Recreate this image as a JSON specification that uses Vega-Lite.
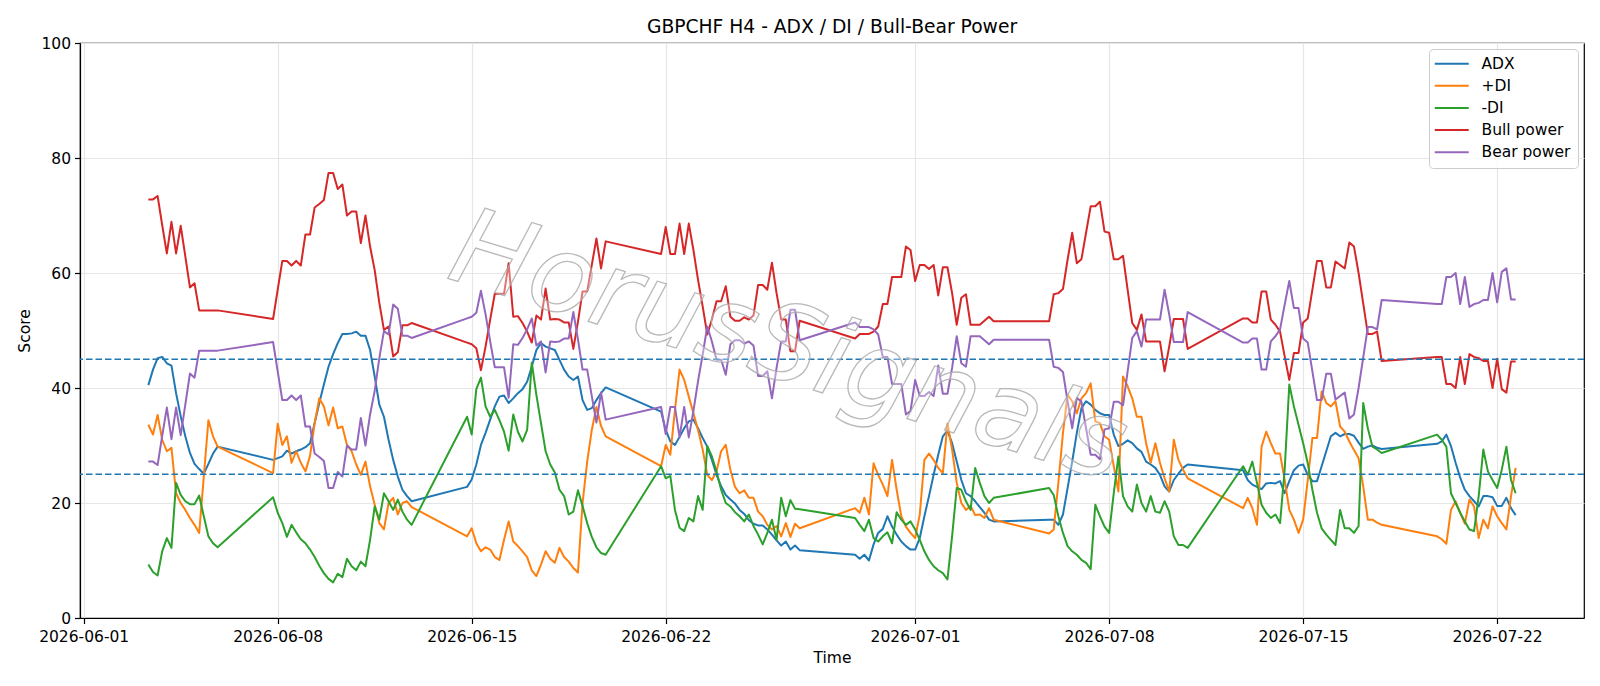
{
"$schema":"https://vega.github.io/schema/vega-lite/v6.json",
"width":1504,"height":575,
"autosize":{"type":"none"},
"padding":{"left":80,"top":43,"right":16,"bottom":68},
"background":"white",
"title":{"text":"GBPCHF H4 - ADX / DI / Bull-Bear Power","font":"DejaVu Sans","fontSize":18.7,"fontWeight":"normal","color":"black","offset":-1,"anchor":"middle"},
"config":{
"font":"DejaVu Sans",
"view":{"stroke":"black","strokeWidth":1.2},
"axis":{"labelFont":"DejaVu Sans","labelFontSize":15.5,"labelColor":"black","titleFont":"DejaVu Sans","titleFontSize":15.5,"titleFontWeight":"normal","titleColor":"black","tickColor":"black","tickSize":5.5,"tickWidth":1.2,"domainColor":"black","domainWidth":1.2,"gridColor":"#e6e6e6","gridWidth":1.2,"labelPadding":4},
"legend":{"labelFont":"DejaVu Sans","labelFontSize":15.5,"labelColor":"black"}
},
"layer":[
{"data":{"values":[
{"t":"2026-06-03T08:00Z","adx":40.5,"pdi":33.6,"mdi":9.3,"bull":72.8,"bear":27.2},
{"t":"2026-06-03T12:00Z","adx":43.2,"pdi":31.9,"mdi":8.0,"bull":72.8,"bear":27.2},
{"t":"2026-06-03T16:00Z","adx":45.2,"pdi":35.3,"mdi":7.4,"bull":73.4,"bear":26.6},
{"t":"2026-06-03T20:00Z","adx":45.4,"pdi":31.0,"mdi":11.6,"bull":68.3,"bear":31.7},
{"t":"2026-06-04T00:00Z","adx":44.3,"pdi":29.0,"mdi":13.9,"bull":63.4,"bear":36.6},
{"t":"2026-06-04T04:00Z","adx":43.9,"pdi":29.6,"mdi":12.2,"bull":68.9,"bear":31.1},
{"t":"2026-06-04T08:00Z","adx":39.1,"pdi":21.7,"mdi":23.5,"bull":63.4,"bear":36.6},
{"t":"2026-06-04T12:00Z","adx":35.1,"pdi":20.0,"mdi":21.4,"bull":68.2,"bear":31.8},
{"t":"2026-06-04T16:00Z","adx":31.6,"pdi":18.8,"mdi":20.3,"bull":62.9,"bear":37.1},
{"t":"2026-06-04T20:00Z","adx":28.7,"pdi":17.4,"mdi":19.8,"bull":57.5,"bear":42.5},
{"t":"2026-06-05T00:00Z","adx":26.8,"pdi":16.2,"mdi":19.8,"bull":58.2,"bear":41.8},
{"t":"2026-06-05T04:00Z","adx":25.9,"pdi":14.8,"mdi":21.3,"bull":53.5,"bear":46.5},
{"t":"2026-06-05T08:00Z","adx":25.1,"pdi":24.6,"mdi":17.7,"bull":53.5,"bear":46.5},
{"t":"2026-06-05T12:00Z","adx":26.8,"pdi":34.4,"mdi":14.2,"bull":53.5,"bear":46.5},
{"t":"2026-06-05T16:00Z","adx":28.6,"pdi":31.6,"mdi":13.0,"bull":53.5,"bear":46.5},
{"t":"2026-06-05T20:00Z","adx":29.8,"pdi":29.8,"mdi":12.3,"bull":53.5,"bear":46.5},
{"t":"2026-06-07T20:00Z","adx":27.5,"pdi":25.2,"mdi":21.0,"bull":52.0,"bear":48.0},
{"t":"2026-06-08T00:00Z","adx":27.8,"pdi":33.8,"mdi":18.3,"bull":57.1,"bear":42.9},
{"t":"2026-06-08T04:00Z","adx":28.1,"pdi":30.1,"mdi":16.5,"bull":62.1,"bear":37.9},
{"t":"2026-06-08T08:00Z","adx":29.1,"pdi":31.6,"mdi":14.1,"bull":62.1,"bear":37.9},
{"t":"2026-06-08T12:00Z","adx":28.6,"pdi":27.0,"mdi":16.2,"bull":61.3,"bear":38.7},
{"t":"2026-06-08T16:00Z","adx":29.0,"pdi":29.0,"mdi":14.9,"bull":62.1,"bear":37.9},
{"t":"2026-06-08T20:00Z","adx":29.3,"pdi":27.0,"mdi":13.7,"bull":61.3,"bear":38.7},
{"t":"2026-06-09T00:00Z","adx":29.7,"pdi":25.5,"mdi":13.0,"bull":66.7,"bear":33.3},
{"t":"2026-06-09T04:00Z","adx":30.4,"pdi":28.2,"mdi":11.9,"bull":66.7,"bear":33.3},
{"t":"2026-06-09T08:00Z","adx":33.9,"pdi":33.9,"mdi":10.6,"bull":71.4,"bear":28.6},
{"t":"2026-06-09T12:00Z","adx":37.4,"pdi":38.2,"mdi":9.1,"bull":72.0,"bear":28.0},
{"t":"2026-06-09T16:00Z","adx":40.6,"pdi":36.8,"mdi":7.8,"bull":72.7,"bear":27.3},
{"t":"2026-06-09T20:00Z","adx":43.7,"pdi":33.5,"mdi":6.8,"bull":77.4,"bear":22.6},
{"t":"2026-06-10T00:00Z","adx":45.9,"pdi":36.6,"mdi":6.2,"bull":77.4,"bear":22.6},
{"t":"2026-06-10T04:00Z","adx":47.8,"pdi":33.0,"mdi":7.7,"bull":74.6,"bear":25.4},
{"t":"2026-06-10T08:00Z","adx":49.4,"pdi":33.3,"mdi":7.1,"bull":75.4,"bear":24.6},
{"t":"2026-06-10T12:00Z","adx":49.4,"pdi":30.1,"mdi":10.3,"bull":70.0,"bear":30.0},
{"t":"2026-06-10T16:00Z","adx":49.5,"pdi":29.0,"mdi":9.0,"bull":70.7,"bear":29.3},
{"t":"2026-06-10T20:00Z","adx":49.8,"pdi":26.7,"mdi":8.3,"bull":70.7,"bear":29.3},
{"t":"2026-06-11T00:00Z","adx":49.1,"pdi":24.9,"mdi":9.8,"bull":65.2,"bear":34.8},
{"t":"2026-06-11T04:00Z","adx":49.1,"pdi":27.2,"mdi":9.0,"bull":70.0,"bear":30.0},
{"t":"2026-06-11T08:00Z","adx":46.6,"pdi":22.9,"mdi":13.6,"bull":64.6,"bear":35.4},
{"t":"2026-06-11T12:00Z","adx":42.0,"pdi":19.7,"mdi":19.4,"bull":60.5,"bear":39.5},
{"t":"2026-06-11T16:00Z","adx":37.1,"pdi":16.5,"mdi":17.1,"bull":54.8,"bear":45.2},
{"t":"2026-06-11T20:00Z","adx":35.0,"pdi":15.4,"mdi":21.7,"bull":50.1,"bear":49.9},
{"t":"2026-06-12T00:00Z","adx":31.0,"pdi":20.0,"mdi":20.3,"bull":50.7,"bear":49.3},
{"t":"2026-06-12T04:00Z","adx":27.5,"pdi":20.9,"mdi":18.8,"bull":45.5,"bear":54.5},
{"t":"2026-06-12T08:00Z","adx":24.6,"pdi":18.0,"mdi":20.6,"bull":46.2,"bear":53.8},
{"t":"2026-06-12T12:00Z","adx":22.3,"pdi":20.0,"mdi":18.5,"bull":50.9,"bear":49.1},
{"t":"2026-06-12T16:00Z","adx":21.2,"pdi":20.3,"mdi":17.1,"bull":50.9,"bear":49.1},
{"t":"2026-06-12T20:00Z","adx":20.3,"pdi":19.3,"mdi":16.2,"bull":51.3,"bear":48.7},
{"t":"2026-06-14T20:00Z","adx":22.8,"pdi":14.2,"mdi":35.0,"bull":47.9,"bear":52.1},
{"t":"2026-06-15T00:00Z","adx":24.1,"pdi":15.6,"mdi":31.9,"bull":47.6,"bear":52.4},
{"t":"2026-06-15T04:00Z","adx":26.7,"pdi":13.0,"mdi":39.8,"bull":46.9,"bear":53.1},
{"t":"2026-06-15T08:00Z","adx":30.1,"pdi":11.6,"mdi":41.8,"bull":43.1,"bear":56.9},
{"t":"2026-06-15T12:00Z","adx":32.2,"pdi":12.3,"mdi":36.8,"bull":47.2,"bear":52.8},
{"t":"2026-06-15T16:00Z","adx":34.5,"pdi":11.9,"mdi":35.0,"bull":51.9,"bear":48.1},
{"t":"2026-06-15T20:00Z","adx":36.8,"pdi":10.6,"mdi":36.2,"bull":56.4,"bear":43.6},
{"t":"2026-06-16T00:00Z","adx":38.5,"pdi":10.1,"mdi":34.4,"bull":56.4,"bear":43.6},
{"t":"2026-06-16T04:00Z","adx":38.7,"pdi":13.6,"mdi":32.4,"bull":56.4,"bear":43.6},
{"t":"2026-06-16T08:00Z","adx":37.4,"pdi":16.8,"mdi":29.1,"bull":61.7,"bear":38.3},
{"t":"2026-06-16T12:00Z","adx":38.2,"pdi":13.3,"mdi":35.4,"bull":52.4,"bear":47.6},
{"t":"2026-06-16T16:00Z","adx":39.1,"pdi":12.5,"mdi":32.4,"bull":52.5,"bear":47.5},
{"t":"2026-06-16T20:00Z","adx":39.8,"pdi":11.6,"mdi":30.7,"bull":51.3,"bear":48.7},
{"t":"2026-06-17T00:00Z","adx":41.1,"pdi":10.6,"mdi":32.7,"bull":49.8,"bear":50.2},
{"t":"2026-06-17T04:00Z","adx":43.7,"pdi":8.3,"mdi":44.4,"bull":47.9,"bear":52.1},
{"t":"2026-06-17T08:00Z","adx":46.6,"pdi":7.3,"mdi":38.8,"bull":52.6,"bear":47.4},
{"t":"2026-06-17T12:00Z","adx":47.8,"pdi":9.3,"mdi":33.9,"bull":51.9,"bear":48.1},
{"t":"2026-06-17T16:00Z","adx":47.2,"pdi":11.6,"mdi":29.0,"bull":57.3,"bear":42.7},
{"t":"2026-06-17T20:00Z","adx":46.9,"pdi":10.3,"mdi":26.7,"bull":51.9,"bear":48.1},
{"t":"2026-06-18T00:00Z","adx":46.6,"pdi":9.6,"mdi":25.3,"bull":52.0,"bear":48.0},
{"t":"2026-06-18T04:00Z","adx":44.9,"pdi":12.2,"mdi":22.3,"bull":51.9,"bear":48.1},
{"t":"2026-06-18T08:00Z","adx":43.2,"pdi":10.6,"mdi":21.2,"bull":51.4,"bear":48.6},
{"t":"2026-06-18T12:00Z","adx":42.0,"pdi":9.8,"mdi":18.0,"bull":51.4,"bear":48.6},
{"t":"2026-06-18T16:00Z","adx":41.4,"pdi":8.7,"mdi":18.5,"bull":46.8,"bear":53.2},
{"t":"2026-06-18T20:00Z","adx":42.0,"pdi":7.9,"mdi":22.2,"bull":51.5,"bear":48.5},
{"t":"2026-06-19T00:00Z","adx":37.9,"pdi":20.0,"mdi":19.5,"bull":56.8,"bear":43.2},
{"t":"2026-06-19T04:00Z","adx":36.2,"pdi":27.2,"mdi":16.5,"bull":56.8,"bear":43.2},
{"t":"2026-06-19T08:00Z","adx":36.5,"pdi":32.7,"mdi":14.1,"bull":61.4,"bear":38.6},
{"t":"2026-06-19T12:00Z","adx":37.9,"pdi":36.7,"mdi":12.3,"bull":66.0,"bear":34.0},
{"t":"2026-06-19T16:00Z","adx":39.1,"pdi":33.4,"mdi":11.3,"bull":60.8,"bear":39.2},
{"t":"2026-06-19T20:00Z","adx":40.1,"pdi":31.6,"mdi":11.0,"bull":65.5,"bear":34.5},
{"t":"2026-06-21T20:00Z","adx":35.9,"pdi":26.4,"mdi":26.4,"bull":63.3,"bear":36.7},
{"t":"2026-06-22T00:00Z","adx":32.7,"pdi":30.1,"mdi":24.3,"bull":68.0,"bear":32.0},
{"t":"2026-06-22T04:00Z","adx":30.7,"pdi":28.4,"mdi":24.7,"bull":63.3,"bear":36.7},
{"t":"2026-06-22T08:00Z","adx":30.1,"pdi":36.2,"mdi":18.8,"bull":63.3,"bear":36.7},
{"t":"2026-06-22T12:00Z","adx":31.5,"pdi":43.2,"mdi":15.7,"bull":68.6,"bear":31.4},
{"t":"2026-06-22T16:00Z","adx":33.0,"pdi":41.4,"mdi":15.1,"bull":63.3,"bear":36.7},
{"t":"2026-06-22T20:00Z","adx":34.2,"pdi":38.5,"mdi":17.4,"bull":68.6,"bear":31.4},
{"t":"2026-06-23T00:00Z","adx":34.5,"pdi":35.6,"mdi":16.8,"bull":64.0,"bear":36.0},
{"t":"2026-06-23T04:00Z","adx":33.0,"pdi":32.7,"mdi":21.2,"bull":58.8,"bear":41.2},
{"t":"2026-06-23T08:00Z","adx":31.3,"pdi":29.3,"mdi":18.8,"bull":54.2,"bear":45.8},
{"t":"2026-06-23T12:00Z","adx":29.8,"pdi":24.9,"mdi":29.9,"bull":49.3,"bear":50.7},
{"t":"2026-06-23T16:00Z","adx":27.5,"pdi":24.0,"mdi":28.1,"bull":51.9,"bear":48.1},
{"t":"2026-06-23T20:00Z","adx":24.9,"pdi":25.5,"mdi":25.5,"bull":55.1,"bear":44.9},
{"t":"2026-06-24T00:00Z","adx":22.9,"pdi":29.0,"mdi":22.3,"bull":55.1,"bear":44.9},
{"t":"2026-06-24T04:00Z","adx":21.4,"pdi":30.1,"mdi":20.0,"bull":57.7,"bear":42.3},
{"t":"2026-06-24T08:00Z","adx":20.6,"pdi":25.8,"mdi":19.4,"bull":52.4,"bear":47.6},
{"t":"2026-06-24T12:00Z","adx":19.9,"pdi":22.8,"mdi":18.4,"bull":51.7,"bear":48.3},
{"t":"2026-06-24T16:00Z","adx":18.8,"pdi":21.7,"mdi":17.7,"bull":51.7,"bear":48.3},
{"t":"2026-06-24T20:00Z","adx":18.1,"pdi":22.2,"mdi":16.8,"bull":52.3,"bear":47.7},
{"t":"2026-06-25T00:00Z","adx":17.0,"pdi":20.9,"mdi":18.0,"bull":51.9,"bear":48.1},
{"t":"2026-06-25T04:00Z","adx":16.4,"pdi":20.9,"mdi":16.0,"bull":52.6,"bear":47.4},
{"t":"2026-06-25T08:00Z","adx":16.1,"pdi":18.5,"mdi":14.5,"bull":57.9,"bear":42.1},
{"t":"2026-06-25T12:00Z","adx":16.1,"pdi":17.7,"mdi":12.8,"bull":57.9,"bear":42.1},
{"t":"2026-06-25T16:00Z","adx":15.4,"pdi":16.2,"mdi":14.8,"bull":57.1,"bear":42.9},
{"t":"2026-06-25T20:00Z","adx":14.5,"pdi":15.4,"mdi":17.1,"bull":61.8,"bear":38.2},
{"t":"2026-06-26T00:00Z","adx":13.5,"pdi":16.0,"mdi":13.6,"bull":56.5,"bear":43.5},
{"t":"2026-06-26T04:00Z","adx":12.6,"pdi":14.2,"mdi":20.9,"bull":51.9,"bear":48.1},
{"t":"2026-06-26T08:00Z","adx":13.3,"pdi":16.5,"mdi":17.7,"bull":51.9,"bear":48.1},
{"t":"2026-06-26T12:00Z","adx":11.9,"pdi":14.1,"mdi":20.5,"bull":46.4,"bear":53.6},
{"t":"2026-06-26T16:00Z","adx":12.6,"pdi":16.4,"mdi":19.0,"bull":46.4,"bear":53.6},
{"t":"2026-06-26T20:00Z","adx":11.8,"pdi":15.6,"mdi":18.9,"bull":51.7,"bear":48.3},
{"t":"2026-06-28T20:00Z","adx":11.0,"pdi":19.1,"mdi":17.4,"bull":48.6,"bear":51.4},
{"t":"2026-06-29T00:00Z","adx":10.3,"pdi":18.3,"mdi":16.2,"bull":49.4,"bear":50.6},
{"t":"2026-06-29T04:00Z","adx":11.0,"pdi":20.9,"mdi":15.1,"bull":49.4,"bear":50.6},
{"t":"2026-06-29T08:00Z","adx":10.0,"pdi":18.0,"mdi":17.1,"bull":49.4,"bear":50.6},
{"t":"2026-06-29T12:00Z","adx":12.8,"pdi":26.9,"mdi":13.9,"bull":49.8,"bear":50.2},
{"t":"2026-06-29T16:00Z","adx":14.8,"pdi":24.9,"mdi":13.3,"bull":50.7,"bear":49.3},
{"t":"2026-06-29T20:00Z","adx":15.5,"pdi":23.2,"mdi":14.2,"bull":54.6,"bear":45.4},
{"t":"2026-06-30T00:00Z","adx":17.7,"pdi":21.2,"mdi":14.9,"bull":54.6,"bear":45.4},
{"t":"2026-06-30T04:00Z","adx":15.9,"pdi":27.5,"mdi":13.0,"bull":59.3,"bear":40.7},
{"t":"2026-06-30T08:00Z","adx":14.5,"pdi":22.3,"mdi":18.4,"bull":59.3,"bear":40.7},
{"t":"2026-06-30T12:00Z","adx":13.3,"pdi":17.7,"mdi":17.1,"bull":59.3,"bear":40.7},
{"t":"2026-06-30T16:00Z","adx":12.5,"pdi":15.9,"mdi":16.2,"bull":64.6,"bear":35.4},
{"t":"2026-06-30T20:00Z","adx":11.9,"pdi":14.8,"mdi":16.8,"bull":64.0,"bear":36.0},
{"t":"2026-07-01T00:00Z","adx":11.9,"pdi":13.9,"mdi":15.4,"bull":58.6,"bear":41.4},
{"t":"2026-07-01T04:00Z","adx":13.9,"pdi":18.0,"mdi":13.6,"bull":61.4,"bear":38.6},
{"t":"2026-07-01T08:00Z","adx":17.7,"pdi":27.5,"mdi":11.6,"bull":61.4,"bear":38.6},
{"t":"2026-07-01T12:00Z","adx":21.2,"pdi":28.6,"mdi":10.1,"bull":60.7,"bear":39.3},
{"t":"2026-07-01T16:00Z","adx":24.9,"pdi":27.5,"mdi":9.0,"bull":61.4,"bear":38.6},
{"t":"2026-07-01T20:00Z","adx":28.4,"pdi":26.1,"mdi":8.3,"bull":56.1,"bear":43.9},
{"t":"2026-07-02T00:00Z","adx":31.6,"pdi":25.2,"mdi":7.8,"bull":61.0,"bear":39.0},
{"t":"2026-07-02T04:00Z","adx":32.6,"pdi":33.8,"mdi":6.7,"bull":61.0,"bear":39.0},
{"t":"2026-07-02T08:00Z","adx":30.4,"pdi":29.3,"mdi":14.2,"bull":56.5,"bear":43.5},
{"t":"2026-07-02T12:00Z","adx":27.2,"pdi":23.5,"mdi":22.6,"bull":51.0,"bear":49.0},
{"t":"2026-07-02T16:00Z","adx":24.0,"pdi":20.0,"mdi":22.3,"bull":55.7,"bear":44.3},
{"t":"2026-07-02T20:00Z","adx":21.7,"pdi":18.8,"mdi":20.3,"bull":56.3,"bear":43.7},
{"t":"2026-07-03T00:00Z","adx":21.2,"pdi":19.5,"mdi":18.8,"bull":51.0,"bear":49.0},
{"t":"2026-07-03T04:00Z","adx":20.3,"pdi":17.9,"mdi":26.1,"bull":51.0,"bear":49.0},
{"t":"2026-07-03T08:00Z","adx":19.3,"pdi":18.0,"mdi":23.5,"bull":51.0,"bear":49.0},
{"t":"2026-07-03T12:00Z","adx":18.3,"pdi":17.4,"mdi":21.2,"bull":51.7,"bear":48.3},
{"t":"2026-07-03T16:00Z","adx":17.1,"pdi":19.1,"mdi":20.0,"bull":52.4,"bear":47.6},
{"t":"2026-07-03T20:00Z","adx":16.8,"pdi":17.1,"mdi":20.9,"bull":51.6,"bear":48.4},
{"t":"2026-07-05T20:00Z","adx":17.1,"pdi":14.7,"mdi":22.6,"bull":51.6,"bear":48.4},
{"t":"2026-07-06T00:00Z","adx":17.1,"pdi":15.4,"mdi":21.4,"bull":56.3,"bear":43.7},
{"t":"2026-07-06T04:00Z","adx":16.2,"pdi":23.5,"mdi":17.7,"bull":56.5,"bear":43.5},
{"t":"2026-07-06T08:00Z","adx":18.0,"pdi":32.2,"mdi":14.8,"bull":57.2,"bear":42.8},
{"t":"2026-07-06T12:00Z","adx":22.6,"pdi":38.8,"mdi":12.5,"bull":62.3,"bear":37.7},
{"t":"2026-07-06T16:00Z","adx":27.2,"pdi":37.7,"mdi":11.6,"bull":67.0,"bear":33.0},
{"t":"2026-07-06T20:00Z","adx":32.2,"pdi":35.6,"mdi":11.0,"bull":61.7,"bear":38.3},
{"t":"2026-07-07T00:00Z","adx":36.5,"pdi":38.2,"mdi":10.1,"bull":62.4,"bear":37.6},
{"t":"2026-07-07T04:00Z","adx":37.7,"pdi":39.1,"mdi":9.6,"bull":67.0,"bear":33.0},
{"t":"2026-07-07T08:00Z","adx":37.1,"pdi":40.8,"mdi":8.5,"bull":71.6,"bear":28.4},
{"t":"2026-07-07T12:00Z","adx":36.2,"pdi":34.2,"mdi":19.7,"bull":71.6,"bear":28.4},
{"t":"2026-07-07T16:00Z","adx":35.6,"pdi":33.9,"mdi":17.7,"bull":72.4,"bear":27.6},
{"t":"2026-07-07T20:00Z","adx":35.3,"pdi":31.6,"mdi":15.9,"bull":67.2,"bear":32.8},
{"t":"2026-07-08T00:00Z","adx":35.3,"pdi":31.0,"mdi":14.8,"bull":67.0,"bear":33.0},
{"t":"2026-07-08T04:00Z","adx":31.9,"pdi":26.4,"mdi":21.7,"bull":62.4,"bear":37.6},
{"t":"2026-07-08T08:00Z","adx":29.9,"pdi":22.0,"mdi":28.1,"bull":62.4,"bear":37.6},
{"t":"2026-07-08T12:00Z","adx":30.3,"pdi":42.0,"mdi":21.2,"bull":63.0,"bear":37.0},
{"t":"2026-07-08T16:00Z","adx":30.9,"pdi":40.3,"mdi":19.4,"bull":57.1,"bear":42.9},
{"t":"2026-07-08T20:00Z","adx":30.4,"pdi":38.2,"mdi":18.5,"bull":51.3,"bear":48.7},
{"t":"2026-07-09T00:00Z","adx":29.5,"pdi":35.0,"mdi":23.2,"bull":50.1,"bear":49.9},
{"t":"2026-07-09T04:00Z","adx":28.9,"pdi":35.0,"mdi":20.0,"bull":52.8,"bear":47.2},
{"t":"2026-07-09T08:00Z","adx":27.2,"pdi":30.4,"mdi":18.5,"bull":48.1,"bear":51.9},
{"t":"2026-07-09T12:00Z","adx":26.7,"pdi":27.0,"mdi":21.2,"bull":48.1,"bear":51.9},
{"t":"2026-07-09T16:00Z","adx":26.1,"pdi":30.4,"mdi":18.5,"bull":48.1,"bear":51.9},
{"t":"2026-07-09T20:00Z","adx":24.9,"pdi":27.0,"mdi":18.3,"bull":48.1,"bear":51.9},
{"t":"2026-07-10T00:00Z","adx":22.9,"pdi":24.3,"mdi":20.3,"bull":42.9,"bear":57.1},
{"t":"2026-07-10T04:00Z","adx":22.0,"pdi":22.0,"mdi":18.5,"bull":47.2,"bear":52.8},
{"t":"2026-07-10T08:00Z","adx":24.0,"pdi":31.0,"mdi":14.2,"bull":52.0,"bear":48.0},
{"t":"2026-07-10T12:00Z","adx":25.1,"pdi":27.5,"mdi":12.7,"bull":52.0,"bear":48.0},
{"t":"2026-07-10T16:00Z","adx":26.1,"pdi":25.8,"mdi":12.7,"bull":52.0,"bear":48.0},
{"t":"2026-07-10T20:00Z","adx":26.7,"pdi":24.3,"mdi":12.2,"bull":46.8,"bear":53.2},
{"t":"2026-07-12T20:00Z","adx":25.7,"pdi":19.1,"mdi":26.4,"bull":52.1,"bear":47.9},
{"t":"2026-07-13T00:00Z","adx":24.0,"pdi":20.9,"mdi":24.9,"bull":52.1,"bear":47.9},
{"t":"2026-07-13T04:00Z","adx":23.2,"pdi":19.1,"mdi":27.2,"bull":51.4,"bear":48.6},
{"t":"2026-07-13T08:00Z","adx":22.8,"pdi":16.2,"mdi":23.5,"bull":51.4,"bear":48.6},
{"t":"2026-07-13T12:00Z","adx":22.4,"pdi":29.8,"mdi":19.7,"bull":56.8,"bear":43.2},
{"t":"2026-07-13T16:00Z","adx":23.4,"pdi":32.4,"mdi":18.3,"bull":56.8,"bear":43.2},
{"t":"2026-07-13T20:00Z","adx":23.5,"pdi":30.4,"mdi":17.4,"bull":51.9,"bear":48.1},
{"t":"2026-07-14T00:00Z","adx":23.4,"pdi":28.6,"mdi":18.0,"bull":51.0,"bear":49.0},
{"t":"2026-07-14T04:00Z","adx":23.8,"pdi":28.6,"mdi":16.5,"bull":49.8,"bear":50.2},
{"t":"2026-07-14T08:00Z","adx":21.7,"pdi":24.0,"mdi":25.8,"bull":45.5,"bear":54.5},
{"t":"2026-07-14T12:00Z","adx":23.8,"pdi":18.8,"mdi":40.6,"bull":41.4,"bear":58.6},
{"t":"2026-07-14T16:00Z","adx":25.7,"pdi":17.1,"mdi":36.8,"bull":46.1,"bear":53.9},
{"t":"2026-07-14T20:00Z","adx":26.5,"pdi":14.8,"mdi":33.6,"bull":46.1,"bear":53.9},
{"t":"2026-07-15T00:00Z","adx":26.7,"pdi":17.1,"mdi":30.4,"bull":51.4,"bear":48.6},
{"t":"2026-07-15T04:00Z","adx":24.9,"pdi":24.0,"mdi":26.9,"bull":52.1,"bear":47.9},
{"t":"2026-07-15T08:00Z","adx":23.8,"pdi":31.3,"mdi":22.3,"bull":57.1,"bear":42.9},
{"t":"2026-07-15T12:00Z","adx":23.8,"pdi":31.3,"mdi":18.3,"bull":62.1,"bear":37.9},
{"t":"2026-07-15T16:00Z","adx":26.4,"pdi":39.4,"mdi":15.6,"bull":62.1,"bear":37.9},
{"t":"2026-07-15T20:00Z","adx":29.0,"pdi":37.4,"mdi":14.5,"bull":57.5,"bear":42.5},
{"t":"2026-07-16T00:00Z","adx":31.6,"pdi":36.8,"mdi":13.6,"bull":57.5,"bear":42.5},
{"t":"2026-07-16T04:00Z","adx":32.2,"pdi":37.7,"mdi":12.7,"bull":62.0,"bear":38.0},
{"t":"2026-07-16T08:00Z","adx":31.6,"pdi":33.3,"mdi":18.8,"bull":61.4,"bear":38.6},
{"t":"2026-07-16T12:00Z","adx":32.0,"pdi":32.4,"mdi":15.6,"bull":60.8,"bear":39.2},
{"t":"2026-07-16T16:00Z","adx":32.0,"pdi":30.7,"mdi":15.6,"bull":65.3,"bear":34.7},
{"t":"2026-07-16T20:00Z","adx":31.7,"pdi":29.2,"mdi":14.8,"bull":64.6,"bear":35.4},
{"t":"2026-07-17T00:00Z","adx":30.5,"pdi":27.8,"mdi":16.0,"bull":60.0,"bear":40.0},
{"t":"2026-07-17T04:00Z","adx":29.4,"pdi":22.9,"mdi":37.4,"bull":54.7,"bear":45.3},
{"t":"2026-07-17T08:00Z","adx":29.8,"pdi":17.1,"mdi":33.0,"bull":49.4,"bear":50.6},
{"t":"2026-07-17T12:00Z","adx":30.0,"pdi":17.1,"mdi":29.8,"bull":49.4,"bear":50.6},
{"t":"2026-07-17T16:00Z","adx":29.6,"pdi":16.6,"mdi":29.3,"bull":49.8,"bear":50.2},
{"t":"2026-07-17T20:00Z","adx":29.4,"pdi":16.2,"mdi":28.7,"bull":44.7,"bear":55.3},
{"t":"2026-07-19T20:00Z","adx":30.3,"pdi":14.2,"mdi":31.9,"bull":45.4,"bear":54.6},
{"t":"2026-07-20T00:00Z","adx":30.7,"pdi":13.7,"mdi":31.0,"bull":45.4,"bear":54.6},
{"t":"2026-07-20T04:00Z","adx":31.9,"pdi":12.9,"mdi":29.8,"bull":40.7,"bear":59.3},
{"t":"2026-07-20T08:00Z","adx":29.9,"pdi":18.8,"mdi":21.7,"bull":40.7,"bear":59.3},
{"t":"2026-07-20T12:00Z","adx":27.0,"pdi":20.3,"mdi":20.0,"bull":40.0,"bear":60.0},
{"t":"2026-07-20T16:00Z","adx":24.4,"pdi":18.3,"mdi":18.3,"bull":45.4,"bear":54.6},
{"t":"2026-07-20T20:00Z","adx":22.3,"pdi":16.4,"mdi":16.8,"bull":40.7,"bear":59.3},
{"t":"2026-07-21T00:00Z","adx":21.2,"pdi":20.6,"mdi":15.4,"bull":45.9,"bear":54.1},
{"t":"2026-07-21T04:00Z","adx":20.3,"pdi":19.4,"mdi":15.1,"bull":45.4,"bear":54.6},
{"t":"2026-07-21T08:00Z","adx":19.4,"pdi":13.9,"mdi":21.2,"bull":45.2,"bear":54.8},
{"t":"2026-07-21T12:00Z","adx":21.2,"pdi":17.1,"mdi":29.3,"bull":44.7,"bear":55.3},
{"t":"2026-07-21T16:00Z","adx":21.2,"pdi":15.6,"mdi":25.5,"bull":44.7,"bear":55.3},
{"t":"2026-07-21T20:00Z","adx":21.0,"pdi":19.4,"mdi":24.0,"bull":40.0,"bear":60.0},
{"t":"2026-07-22T00:00Z","adx":19.5,"pdi":17.7,"mdi":22.6,"bull":45.1,"bear":54.9},
{"t":"2026-07-22T04:00Z","adx":19.5,"pdi":16.5,"mdi":25.8,"bull":39.8,"bear":60.2},
{"t":"2026-07-22T08:00Z","adx":20.9,"pdi":15.4,"mdi":29.8,"bull":39.2,"bear":60.8},
{"t":"2026-07-22T12:00Z","adx":19.1,"pdi":21.2,"mdi":24.0,"bull":44.6,"bear":55.4},
{"t":"2026-07-22T16:00Z","adx":17.9,"pdi":26.1,"mdi":21.7,"bull":44.6,"bear":55.4}
]},
"transform":[{"fold":["adx","pdi","mdi","bull","bear"],"as":["series","value"]}],
"mark":{"type":"line","strokeWidth":2,"strokeJoin":"round"},
"encoding":{
"x":{"field":"t","type":"temporal","title":"Time",
"scale":{"type":"utc","nice":false,"domain":[{"year":2026,"month":5,"date":31,"hours":20,"minutes":48,"utc":true},{"year":2026,"month":7,"date":25,"hours":3,"minutes":12,"utc":true}]},
"axis":{"labelExpr":"utcFormat(datum.value, '%Y-%m-%d')","labelAngle":0,"labelFlush":false,"grid":true,"labelPadding":5.5,"titlePadding":6,
"values":[{"year":2026,"month":6,"date":1,"utc":true},{"year":2026,"month":6,"date":8,"utc":true},{"year":2026,"month":6,"date":15,"utc":true},{"year":2026,"month":6,"date":22,"utc":true},{"year":2026,"month":7,"date":1,"utc":true},{"year":2026,"month":7,"date":8,"utc":true},{"year":2026,"month":7,"date":15,"utc":true},{"year":2026,"month":7,"date":22,"utc":true}]}},
"y":{"field":"value","type":"quantitative","title":"Score","scale":{"domain":[0,100],"nice":false},"axis":{"values":[0,20,40,60,80,100],"grid":true,"titlePadding":8}},
"color":{"field":"series","type":"nominal","scale":{"domain":["adx","pdi","mdi","bull","bear"],"range":["#1f77b4","#ff7f0e","#2ca02c","#d62728","#9467bd"]},
"legend":{"title":null,"orient":"top-right","offset":6,"labelExpr":"datum.label=='adx'?'ADX':datum.label=='pdi'?'+DI':datum.label=='mdi'?'-DI':datum.label=='bull'?'Bull power':'Bear power'","symbolType":"M-2.83,0L2.83,0","symbolSize":144,"symbolStrokeWidth":2,"symbolOffset":8,"fillColor":"rgba(255,255,255,0.8)","strokeColor":"#cccccc","cornerRadius":4,"padding":7,"rowPadding":5.1,"labelOffset":22}}
}},
{"data":{"values":[{"value":25},{"value":45}]},
"mark":{"type":"rule","color":"#1f77b4","strokeWidth":1.5,"strokeDash":[6.5,3]},
"encoding":{"y":{"field":"value","type":"quantitative","title":"Score","axis":{"values":[0,20,40,60,80,100],"grid":true,"titlePadding":8}}}},
{"data":{"values":[{"label":"HorusSignals"}]},
"mark":{"type":"text","fontSize":107,"font":"DejaVu Sans","fontStyle":"italic","angle":17,"align":"center","baseline":"middle","fill":"white","fillOpacity":0.35,"stroke":"#a8a8a8","strokeOpacity":0.8,"strokeWidth":1.3},
"encoding":{"text":{"field":"label"},
"x":{"datum":{"year":2026,"month":6,"date":26,"hours":10,"utc":true},"type":"temporal","title":"Time","axis":{"labelExpr":"utcFormat(datum.value, '%Y-%m-%d')","labelAngle":0,"labelFlush":false,"grid":true,"labelPadding":5.5,"titlePadding":6,
"values":[{"year":2026,"month":6,"date":1,"utc":true},{"year":2026,"month":6,"date":8,"utc":true},{"year":2026,"month":6,"date":15,"utc":true},{"year":2026,"month":6,"date":22,"utc":true},{"year":2026,"month":7,"date":1,"utc":true},{"year":2026,"month":7,"date":8,"utc":true},{"year":2026,"month":7,"date":15,"utc":true},{"year":2026,"month":7,"date":22,"utc":true}]}},
"y":{"datum":46.8,"type":"quantitative","title":"Score","axis":{"values":[0,20,40,60,80,100],"grid":true,"titlePadding":8}}}}
]
}
